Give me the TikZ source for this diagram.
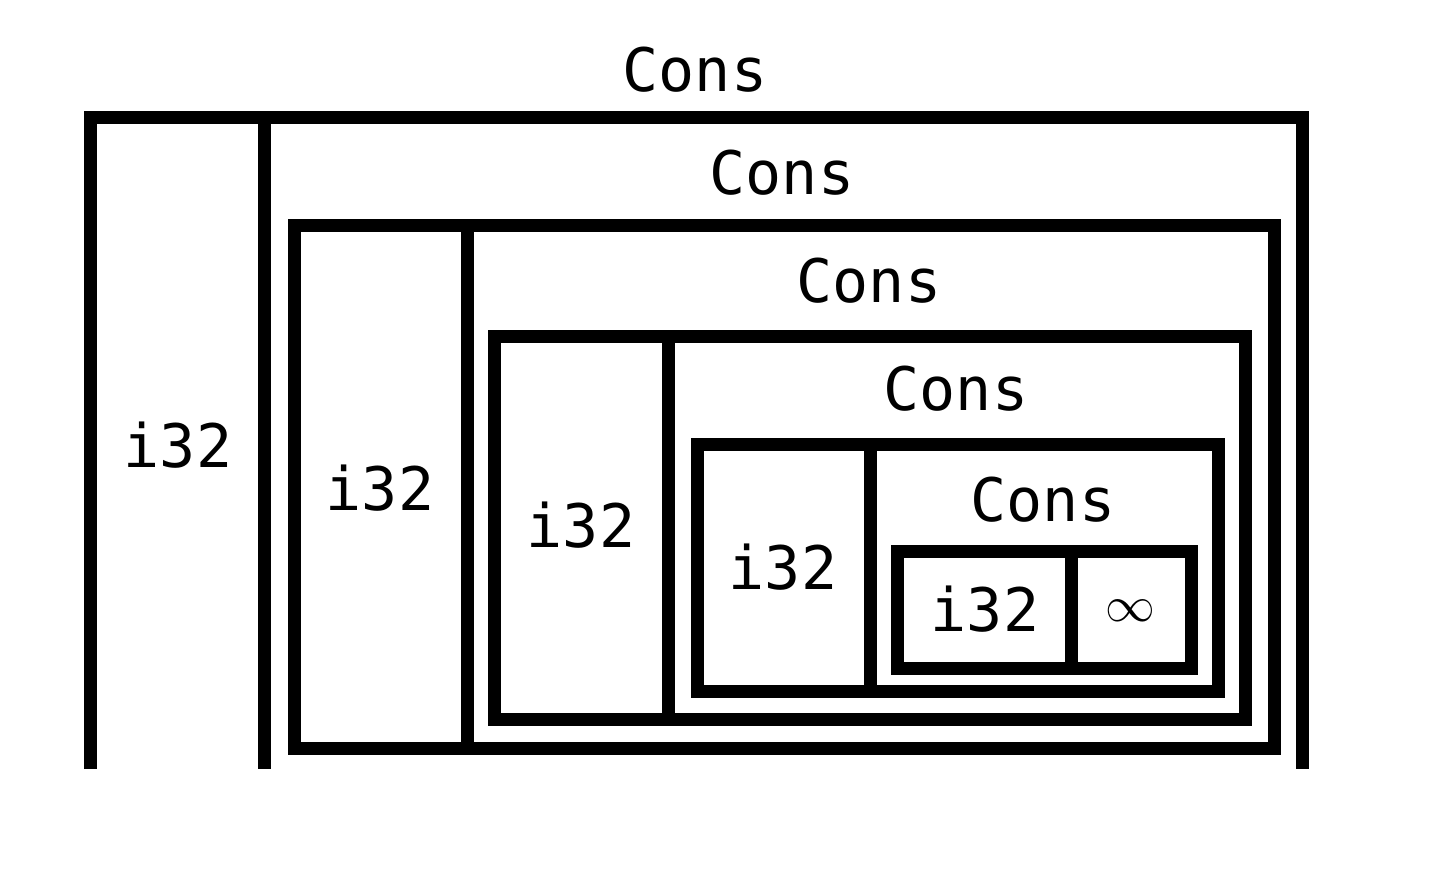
\documentclass[tikz,border=0pt]{standalone}
\usepackage{fontspec}
\setmonofont{DejaVu Sans Mono}
\usetikzlibrary{positioning}

\tikzset{box/.style={line width=6.5pt},
         lbl/.style={font=\ttfamily\fontsize{30}{34}\selectfont, inner sep=0pt}}

\begin{document}
\begin{tikzpicture}[x=0.5pt,y=-0.5pt]
\useasboundingbox (0,0) rectangle (1432,884);

% outermost cell, open at the bottom
\draw [box] (90,769) -- (90,117) -- (1302,117) -- (1302,769);
\draw [box] (264,117) -- (264,769);
\node [lbl] (cons1) at (695,70) {Cons};
\node [lbl] (int1) at (178,445) {i32};

\draw [box] (294,225) rectangle (1274,748);
\draw [box] (467,225) -- (467,748);
\node [lbl] (cons2) at (782,173) {Cons};
\node [lbl] (int2) at (380,488) {i32};

\draw [box] (494,336) rectangle (1245,719);
\draw [box] (668,336) -- (668,719);
\node [lbl] (cons3) at (869,281) {Cons};
\node [lbl] (int3) at (581,525) {i32};

\draw [box] (697,444) rectangle (1218,691);
\draw [box] (870,444) -- (870,691);
\node [lbl] (cons4) at (956,389) {Cons};
\node [lbl] (int4) at (783,567) {i32};

\draw [box] (897,551) rectangle (1191,668);
\draw [box] (1071,551) -- (1071,668);
\node [lbl] (cons5) at (1043,500) {Cons};
\node [lbl] (int5) at (985,609) {i32};
\node [lbl, font=\fontsize{25}{28}\selectfont] (inf) at (1130,611) {$\infty$};

\end{tikzpicture}
\end{document}
